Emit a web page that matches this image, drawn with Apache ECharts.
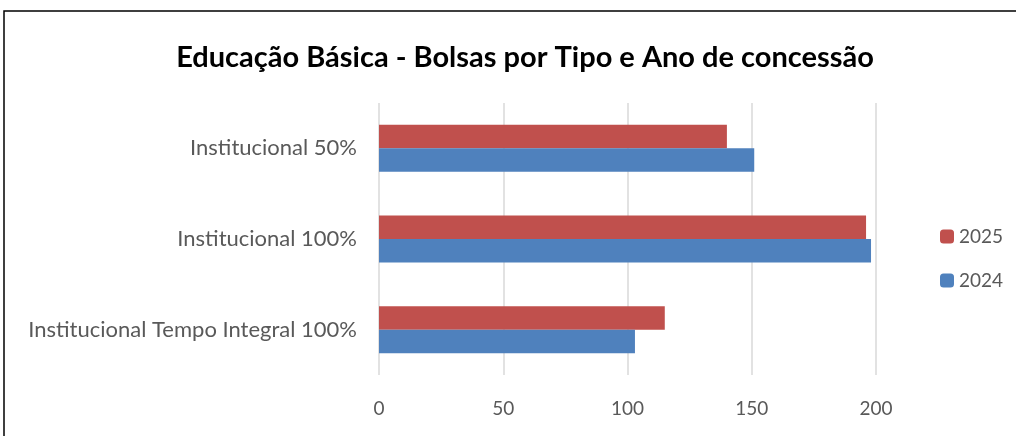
<!DOCTYPE html>
<html>
<head>
<meta charset="utf-8">
<script src="https://cdn.jsdelivr.net/npm/echarts@6/dist/echarts.min.js"></script>
<style>
  html, body { margin: 0; padding: 0; background: #fff; }
  #chart { width: 1016px; height: 436px; }
</style>
</head>
<body>
<div id="chart"></div>
<script>
// categories top to bottom
const categories = ['Institucional 50%', 'Institucional 100%', 'Institucional Tempo Integral 100%'];
const values2024 = [151, 198, 103];
const values2025 = [140, 196, 115];
const xTicks = [0, 50, 100, 150, 200];

const chart = echarts.init(document.getElementById('chart'));

const font = 'Lato, "Open Sans", sans-serif';

const option = {
    animation: false,
    textStyle: { fontFamily: font },
    title: {
        text: 'Educação Básica - Bolsas por Tipo e Ano de concessão',
        left: 520,
        textAlign: 'center',
        top: 38,
        textStyle: { fontFamily: font, fontSize: 29, fontWeight: 'bold', color: '#000' }
    },
    graphic: [{
        type: 'rect',
        shape: { x: 4, y: 11, width: 1100, height: 500 },
        style: { fill: 'none', stroke: '#000', lineWidth: 1.5 },
        silent: true
    }],
    legend: {
        orient: 'vertical',
        left: 935,
        top: 222,
        itemWidth: 14,
        itemHeight: 14,
        itemGap: 25,
        data: ['2025', '2024'],
        textStyle: { fontSize: 19, color: '#595959', fontFamily: font }
    },
    grid: { left: 379, right: 140, top: 103, bottom: 61 },
    xAxis: {
        type: 'value',
        min: 0,
        max: 200,
        interval: 50,
        axisLine: { show: false },
        axisTick: { show: false },
        splitLine: { lineStyle: { color: '#d9d9d9', width: 1.5 } },
        axisLabel: {
            fontSize: 19, color: '#595959', margin: 24,
            formatter: v => xTicks.includes(v) ? String(v) : ''
        }
    },
    yAxis: {
        type: 'category',
        inverse: true,
        data: categories,
        axisLine: { show: false },
        axisTick: { show: false },
        axisLabel: { fontSize: 22, color: '#595959', margin: 22 }
    },
    series: [
        {
            name: '2025',
            type: 'bar',
            data: values2025,
            barWidth: 23.5,
            barGap: '0%',
            itemStyle: { color: '#C0504D' }
        },
        {
            name: '2024',
            type: 'bar',
            data: values2024,
            barWidth: 23.5,
            barGap: '0%',
            itemStyle: { color: '#4F81BD' }
        }
    ]
};

chart.setOption(option);
</script>
</body>
</html>
